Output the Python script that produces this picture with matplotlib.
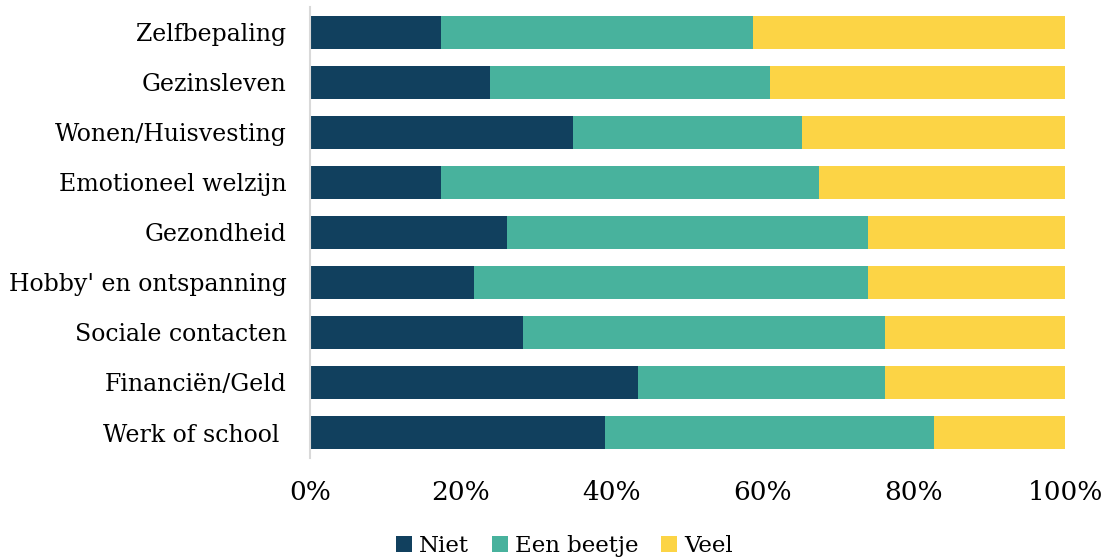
import matplotlib.pyplot as plt
import numpy as np
from matplotlib.ticker import PercentFormatter

# categories top to bottom
categories = ["Zelfbepaling", "Gezinsleven", "Wonen/Huisvesting", "Emotioneel welzijn",
              "Gezondheid", "Hobby' en ontspanning", "Sociale contacten",
              "Financiën/Geld", "Werk of school "]
niet = [17.4, 23.8, 34.8, 17.4, 26.1, 21.7, 28.2, 43.5, 39.1]
een_beetje = [41.3, 37.1, 30.4, 50.0, 47.8, 52.2, 48.0, 32.7, 43.5]
veel = [41.3, 39.1, 34.8, 32.6, 26.1, 26.1, 23.8, 23.8, 17.4]

series_names = ["Niet", "Een beetje", "Veel"]
colors = ["#11405e", "#48b29d", "#fcd445"]

plt.rcParams['font.family'] = ['DejaVu Serif']

fig = plt.figure(figsize=(11.02, 5.58), dpi=100)
ax = fig.add_axes([0.2813, 0.1801, 0.6851, 0.8065])

y = np.arange(len(categories))
left = np.zeros(len(categories))
for vals, name, c in zip([niet, een_beetje, veel], series_names, colors):
    ax.barh(y, vals, left=left, height=0.66, color=c, label=name)
    left = left + np.array(vals)

ax.set_ylim(len(categories) - 0.5, -0.5)
ax.set_xlim(0, 100)
ax.set_yticks(y)
ax.set_yticklabels(categories, fontsize=17)
ax.set_xticks(np.arange(0, 101, 20))
ax.xaxis.set_major_formatter(PercentFormatter(decimals=0))
ax.tick_params(axis='x', length=0, labelsize=19, pad=16)
ax.tick_params(axis='y', length=0, pad=17)
for s in ['top', 'right', 'bottom']:
    ax.spines[s].set_visible(False)
ax.spines['left'].set_color('#d9d9d9')
ax.spines['left'].set_linewidth(1.5)

leg = fig.legend(loc='lower center', bbox_to_anchor=(0.512, -0.036), ncol=3, frameon=False,
                 fontsize=16.5, handlelength=0.7, handleheight=0.7, handletextpad=0.3,
                 columnspacing=1.0)

fig.savefig("out.png", dpi=100)
